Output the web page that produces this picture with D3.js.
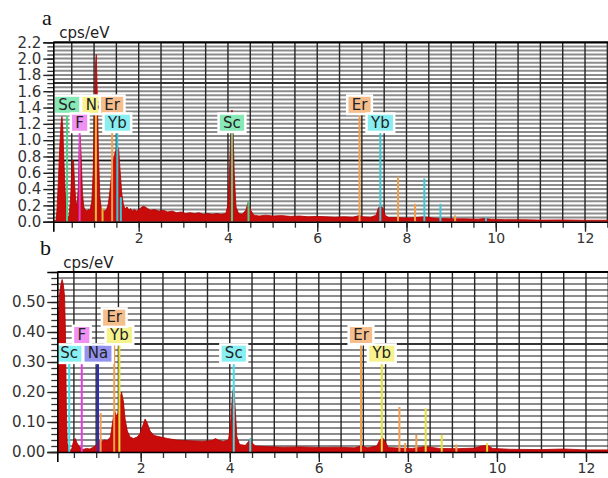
<!DOCTYPE html>
<html>
<head>
<meta charset="utf-8">
<script src="https://cdn.jsdelivr.net/npm/d3@7"></script>
<style>
  body { margin: 0; background: #fff; }
  svg { display: block; }
</style>
</head>
<body>
<svg id="chart" width="608" height="478"></svg>
<script>
// ---------- Spectrum a : energy (keV) / intensity (cps/eV) ----------
const energyA = [0.0865,0.15,0.17,0.20,0.23,0.26,0.28,0.30,0.32,0.35,0.38,0.41,0.44,0.47,0.50,0.52,0.54,0.56,0.59,0.62,
  0.65,0.67,0.69,0.71,0.74,0.77,0.80,0.84,0.88,0.91,0.95,0.98,1.01,1.035,1.05,1.07,1.10,1.13,1.16,1.20,
  1.24,1.28,1.32,1.36,1.40,1.44,1.48,1.52,1.55,1.58,1.62,1.66,1.70,1.74,1.78,1.82,1.86,1.90,1.95,2.00,
  2.05,2.10,2.15,2.20,2.27,2.35,2.45,2.55,2.65,2.75,2.85,2.95,3.05,3.15,3.25,3.35,3.45,3.55,3.65,3.75,
  3.85,3.95,4.00,4.04,4.07,4.09,4.11,4.14,4.18,4.24,4.32,4.40,4.46,4.51,4.58,4.70,4.85,5.00,5.20,5.40,
  5.60,5.80,6.00,6.20,6.40,6.60,6.80,6.90,6.95,7.00,7.20,7.32,7.37,7.42,7.47,7.52,7.60,7.80,8.00,8.20,
  8.40,8.60,8.80,9.00,9.30,9.60,9.75,9.90,10.2,10.6,11.0,11.5,12.0,12.6];
const countsA = [0.00,0.02,0.15,0.50,0.90,1.20,1.29,1.15,0.80,0.40,0.12,0.04,0.08,0.25,0.60,0.76,0.74,0.50,0.25,0.20,
  0.45,0.95,1.05,0.80,0.35,0.18,0.15,0.13,0.15,0.14,0.25,0.60,1.30,1.95,2.05,1.60,0.80,0.30,0.17,0.14,
  0.13,0.15,0.22,0.40,0.62,0.78,0.86,0.92,0.90,0.65,0.35,0.20,0.16,0.18,0.14,0.16,0.13,0.15,0.13,0.15,
  0.17,0.19,0.18,0.16,0.14,0.15,0.13,0.14,0.12,0.13,0.11,0.12,0.10,0.11,0.10,0.11,0.09,0.10,0.09,0.10,
  0.09,0.10,0.20,0.70,1.25,1.37,1.20,0.60,0.18,0.10,0.09,0.14,0.25,0.14,0.08,0.07,0.08,0.07,0.075,0.065,
  0.07,0.06,0.065,0.06,0.055,0.06,0.055,0.07,0.08,0.06,0.055,0.08,0.17,0.19,0.17,0.08,0.05,0.05,0.045,0.05,
  0.06,0.045,0.04,0.035,0.035,0.03,0.04,0.03,0.025,0.025,0.02,0.022,0.018,0.018];

// Characteristic lines in a
const lineElemA   = ["Sc","Na","Er","F","Yb","Sc","Er","Yb","Na","Yb","Sc","Er","Er","Yb","Yb","Er","Yb"];
const lineEnergyA = [0.395,1.041,1.405,0.677,1.521,4.090,6.948,7.414,1.190,1.600,4.460,7.810,8.190,8.400,8.760,9.090,9.780];
const lineHeightA = [1.32,1.32,1.32,1.10,1.10,1.10,1.32,1.10,0.17,0.30,0.25,0.55,0.22,0.53,0.22,0.08,0.06];
const lineTaggedA = [true,true,true,true,true,true,true,true,false,false,false,false,false,false,false,false,false];
const yTicksA = [0.0,0.2,0.4,0.6,0.8,1.0,1.2,1.4,1.6,1.8,2.0,2.2];

// ---------- Spectrum b ----------
const energyB = [0.127,0.135,0.15,0.18,0.21,0.235,0.26,0.29,0.31,0.33,0.35,0.40,0.45,0.49,0.53,0.57,0.62,0.70,0.78,0.86,
  0.92,0.98,1.03,1.07,1.12,1.18,1.25,1.32,1.37,1.41,1.45,1.49,1.53,1.57,1.61,1.65,1.70,1.76,1.84,1.92,
  1.98,2.04,2.10,2.15,2.21,2.30,2.45,2.60,2.80,3.00,3.20,3.40,3.60,3.68,3.74,3.85,3.97,4.02,4.06,4.09,
  4.12,4.16,4.22,4.35,4.42,4.46,4.50,4.58,4.80,5.20,5.60,6.00,6.40,6.80,6.95,7.10,7.30,7.37,7.43,7.49,
  7.56,7.80,8.10,8.40,8.70,9.10,9.50,9.65,9.80,9.90,10.3,11.0,11.5,12.0,12.6];
const countsB = [0.00,0.30,0.45,0.53,0.56,0.575,0.56,0.52,0.40,0.15,0.03,0.005,0.01,0.035,0.045,0.03,0.018,0.008,0.012,0.01,
  0.015,0.02,0.03,0.04,0.035,0.04,0.038,0.05,0.10,0.14,0.12,0.13,0.18,0.20,0.17,0.11,0.07,0.05,0.045,0.05,
  0.06,0.085,0.11,0.095,0.07,0.055,0.05,0.045,0.04,0.038,0.037,0.036,0.038,0.045,0.04,0.035,0.04,0.09,0.19,0.22,
  0.15,0.05,0.025,0.022,0.035,0.045,0.03,0.02,0.018,0.016,0.017,0.015,0.016,0.014,0.02,0.014,0.02,0.04,0.048,0.035,
  0.015,0.013,0.012,0.018,0.012,0.011,0.013,0.02,0.022,0.012,0.009,0.008,0.01,0.007,0.007];

const lineElemB   = ["Sc","Na","F","Yb","Er","Sc","Er","Yb","Er","Sc","Er","Er","Er","Yb","Yb","Er","Yb"];
const lineEnergyB = [0.395,1.041,0.677,1.521,1.405,4.090,6.948,7.414,1.100,4.460,7.810,7.940,8.190,8.400,8.760,9.090,9.780];
const lineHeightB = [0.297,0.297,0.359,0.359,0.417,0.297,0.359,0.297,0.13,0.045,0.15,0.03,0.057,0.145,0.057,0.025,0.03];
const lineTaggedB = [true,true,true,true,true,true,true,true,false,false,false,false,false,false,false,false,false];
const yTicksB = [0.00,0.10,0.20,0.30,0.40,0.50];

const xTickLabels = [2,4,6,8,10,12];

// ---------- element colours ----------
const coloursA = {
  Sc: { line: "#4fd08a", tag: "#88e8b6" },
  Na: { line: "#e2bf3a", tag: "#f6f28e" },
  Er: { line: "#f0a04c", tag: "#f6be8c" },
  F:  { line: "#e040d8", tag: "#f090f0" },
  Yb: { line: "#3fc6d6", tag: "#88eef2" }
};
const coloursB = {
  Sc: { line: "#3fe0e8", tag: "#88f0f2" },
  Na: { line: "#2a2ad0", tag: "#9494f0" },
  Er: { line: "#f0a04c", tag: "#f6be8c" },
  F:  { line: "#e040e0", tag: "#f090f0" },
  Yb: { line: "#e6e03a", tag: "#f6f28e" }
};

const svg = d3.select("#chart");
const FONT = "'DejaVu Sans', Verdana, sans-serif";

function drawPanel(p) {
  const g = svg.append("g");
  const x = d3.scaleLinear().domain(p.xDomain).range(p.xRange);
  const y = d3.scaleLinear().domain(p.yDomain).range([p.bottom, p.top]);
  const right = 608;

  const clipId = "clip-" + p.id;
  svg.append("clipPath").attr("id", clipId)
    .append("rect").attr("x", p.left).attr("y", p.top - 1)
    .attr("width", right - p.left).attr("height", p.bottom - p.top + 1);

  const plot = g.append("g").attr("clip-path", `url(#${clipId})`);

  // horizontal grid (fine gray, a few dark)
  const hGrid = d3.range(p.yMinor, p.yDomain[1] - 1e-9, p.yMinor);
  plot.selectAll("line.h").data(hGrid).join("line")
    .attr("x1", p.left).attr("x2", right)
    .attr("y1", d => y(d)).attr("y2", d => y(d))
    .attr("stroke", "#8c8c8c").attr("stroke-width", 2);
  plot.selectAll("line.hd").data(p.darkRows).join("line")
    .attr("x1", p.left).attr("x2", right)
    .attr("y1", d => y(d)).attr("y2", d => y(d))
    .attr("stroke", "#1a1a1a").attr("stroke-width", 1.4);

  // vertical grid every 0.5 keV
  const vGrid = d3.range(0.5, 12.75, 0.5);
  plot.selectAll("line.v").data(vGrid).join("line")
    .attr("x1", d => x(d)).attr("x2", d => x(d))
    .attr("y1", p.top).attr("y2", p.bottom)
    .attr("stroke", "#262626").attr("stroke-width", 1.4);

  // spectrum
  const pts = p.energy.map((e, i) => [e, p.counts[i]]);
  const area = d3.area().x(d => x(d[0])).y0(y(0)).y1(d => y(d[1]));
  plot.append("path").datum(pts).attr("d", area)
    .attr("fill", "#c80b0b").attr("stroke", "#b00000").attr("stroke-width", 0.8);

  // characteristic lines
  const lines = p.lineElem.map((el, i) => ({
    el, e: p.lineEnergy[i], h: p.lineHeight[i], tagged: p.lineTagged[i]
  }));
  plot.selectAll("line.el").data(lines).join("line")
    .attr("x1", d => x(d.e)).attr("x2", d => x(d.e))
    .attr("y1", y(0)).attr("y2", d => y(d.h))
    .attr("stroke", d => p.colours[d.el].line).attr("stroke-width", 2);

  // element tags sitting on their lines (later tags cover earlier ones)
  const tagH = 18.5;
  const tags = plot.selectAll("g.tag").data(lines.filter(d => d.tagged)).join("g")
    .attr("transform", d => `translate(${x(d.e)},${y(d.h)})`);
  tags.each(function (d) {
    const t = d3.select(this);
    const txt = t.append("text").text(d.el)
      .attr("x", 0).attr("y", -4.5).attr("text-anchor", "middle")
      .attr("font-family", FONT).attr("font-size", 15).attr("fill", "#222");
    const w = txt.node().getComputedTextLength() + 9;
    t.insert("rect", "text")
      .attr("x", -w / 2).attr("y", -tagH).attr("width", w).attr("height", tagH)
      .attr("fill", p.colours[d.el].tag).attr("stroke", "#fff").attr("stroke-width", 2.5);
  });

  // frame
  g.append("line").attr("x1", p.left).attr("x2", right).attr("y1", p.top).attr("y2", p.top)
    .attr("stroke", "#000").attr("stroke-width", 2.2);

  // y axis: minor and major ticks
  const yMinorTicks = d3.range(0, p.yDomain[1] + 1e-9, p.yMinor);
  g.append("g").attr("transform", `translate(${p.left},0)`)
    .call(d3.axisLeft(y).tickValues(yMinorTicks).tickSize(6).tickFormat(""))
    .call(a => a.select(".domain").remove())
    .call(a => a.selectAll("line").attr("stroke", "#333").attr("stroke-width", 1.3));
  g.append("g").attr("transform", `translate(${p.left},0)`)
    .call(d3.axisLeft(y).tickValues(p.yTicks).tickSize(10).tickPadding(2).tickFormat(d3.format(p.fmt)))
    .call(a => a.select(".domain").attr("stroke", "#000").attr("stroke-width", 1.6))
    .call(a => a.selectAll("line").attr("stroke", "#222").attr("stroke-width", 1.4))
    .call(a => a.selectAll("text").attr("font-family", FONT).attr("font-size", 15).attr("fill", "#333"));

  // x axis
  const xMinorTicks = d3.range(0.5, 12.75, 0.5);
  g.append("g").attr("transform", `translate(0,${p.bottom})`)
    .call(d3.axisBottom(x).tickValues(xMinorTicks).tickSize(6).tickFormat(""))
    .call(a => a.select(".domain").remove())
    .call(a => a.selectAll("line").attr("stroke", "#333").attr("stroke-width", 1.3));
  g.append("g").attr("transform", `translate(0,${p.bottom})`)
    .call(d3.axisBottom(x).tickValues(xTickLabels).tickSize(10).tickPadding(1).tickFormat(d3.format("d")))
    .call(a => a.select(".domain").attr("stroke", "#000").attr("stroke-width", 1.6))
    .call(a => a.selectAll("line").attr("stroke", "#222").attr("stroke-width", 1.4))
    .call(a => a.selectAll("text").attr("font-family", FONT).attr("font-size", 14).attr("fill", "#333"));

  // panel letter and unit
  g.append("text").text(p.id).attr("x", p.letterX).attr("y", p.top - 17)
    .attr("font-family", "'Liberation Serif', 'Times New Roman', serif").attr("font-size", 22).attr("fill", "#111");
  g.append("text").text("cps/eV").attr("x", p.left + 6).attr("y", p.top - 4)
    .attr("font-family", FONT).attr("font-size", 15).attr("fill", "#222");
}

drawPanel({
  id: "a", left: 53.3, top: 42.3, bottom: 221.7,
  xDomain: [0.0865, 12.6], xRange: [53.3, 611.8], yDomain: [0, 2.2],
  yMinor: 0.05, yTicks: yTicksA, fmt: ".1f", darkRows: [0.75, 1.7],
  energy: energyA, counts: countsA,
  lineElem: lineElemA, lineEnergy: lineEnergyA, lineHeight: lineHeightA, lineTagged: lineTaggedA,
  colours: coloursA, letterX: 42
});

drawPanel({
  id: "b", left: 57.3, top: 272, bottom: 452,
  xDomain: [0.127, 12.6], xRange: [57.3, 612.7], yDomain: [0, 0.6],
  yMinor: 0.02, yTicks: yTicksB, fmt: ".2f", darkRows: [0.36],
  energy: energyB, counts: countsB,
  lineElem: lineElemB, lineEnergy: lineEnergyB, lineHeight: lineHeightB, lineTagged: lineTaggedB,
  colours: coloursB, letterX: 40
});
</script>
</body>
</html>
